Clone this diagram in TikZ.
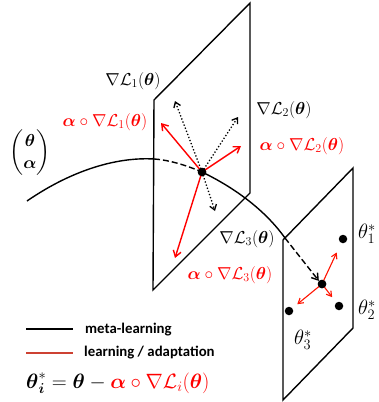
\documentclass[tikz,border=0pt]{standalone}
\usepackage{amsmath,amssymb}
\usepackage{fontspec}
\newfontfamily\legendfont{Carlito}
\usetikzlibrary{arrows.meta,calc}
\tikzset{
  plane/.style={line width=1.4pt, line join=miter},
  meta/.style={line width=1.4pt},
  dash6/.style={dash pattern=on 6pt off 3pt},
  redarr/.style={red, line width=1.4pt, -{Straight Barb[length=6pt,width=8pt]}},
  redarrs/.style={red!85!orange, line width=1.1pt, -{Straight Barb[length=5pt,width=6pt]}},
  dotarr/.style={black, line width=1.3pt, dotted, -{Straight Barb[length=5pt,width=7pt]}},
  lbl/.style={inner sep=0pt, font=\fontsize{17.5}{20}\selectfont},
  starlbl/.style={inner sep=0pt, font=\fontsize{21}{24}\selectfont},
  dot/.style={circle, fill=black, inner sep=0pt, minimum size=8.5pt},
  legtext/.style={inner sep=0pt, anchor=west, font=\legendfont\bfseries\fontsize{14.8}{17}\selectfont}
}
\begin{document}
\begin{tikzpicture}[x=1pt,y=-1pt]
\useasboundingbox (0,0) rectangle (379,402);
% planes
\draw[plane] (154,100) -- (250,3) -- (250,193) -- (153,290) -- cycle;
\draw[plane] (283,240) -- (353,168) -- (353,328) -- (283,400) -- cycle;
% meta-learning curve
\coordinate (start) at (27,201);
\coordinate (edge1) at (154,159);
\node[dot] (c1) at (202,172) {};
\coordinate (edge2) at (285,238);
\node[dot] (c2) at (322,284) {};
\draw[meta] (start) .. controls (75,168) and (120,157) .. (edge1);
\draw[meta, dash6] (edge1) .. controls (170,160) and (188,166) .. (c1.center);
\draw[meta] (c1.center) .. controls (235,188) and (265,210) .. (edge2);
\draw[meta, dash6, -{Straight Barb[length=6pt,width=8pt]}] (edge2) -- (c2.north west);
% arrows in plane 1
\coordinate (r1) at (161,123);
\coordinate (r2) at (241,146);
\coordinate (r3) at (175,258);
\coordinate (d1) at (175,101);
\coordinate (d2) at (238,117);
\coordinate (d3) at (215,211);
\draw[dotarr] (c1.center) -- (d1);
\draw[dotarr] (c1.center) -- (d2);
\draw[dotarr] (c1.center) -- (d3);
\draw[redarr] (c1.center) -- (r1);
\draw[redarr] (c1.center) -- (r2);
\draw[redarr] (c1.center) -- (r3);
\node[dot] (c1b) at (202,172) {};
% plane 2 targets
\node[dot] (t1) at (343,239) {};
\node[dot] (t2) at (339,306) {};
\node[dot] (t3) at (289,311) {};
\draw[redarrs] (c2.center) -- ($(t1)!0.3!(c2)$);
\draw[redarrs] (c2.center) -- ($(t2)!0.4!(c2)$);
\draw[redarrs] (c2.center) -- ($(t3)!0.25!(c2)$);
\node[dot] (c2b) at (322,284) {};
% labels
\node[lbl] (l1) at (133,81) {$\nabla\mathcal{L}_1(\boldsymbol{\theta})$};
\node[lbl, red] (a1) at (105,122) {$\boldsymbol{\alpha}\circ\nabla\mathcal{L}_1(\boldsymbol{\theta})$};
\node[lbl] (l2) at (284,110) {$\nabla\mathcal{L}_2(\boldsymbol{\theta})$};
\node[lbl, red] (a2) at (302,146) {$\boldsymbol{\alpha}\circ\nabla\mathcal{L}_2(\boldsymbol{\theta})$};
\node[lbl] (l3) at (247,239) {$\nabla\mathcal{L}_3(\boldsymbol{\theta})$};
\node[lbl, red] (a3) at (230,275) {$\boldsymbol{\alpha}\circ\nabla\mathcal{L}_3(\boldsymbol{\theta})$};
\node[inner sep=0pt, font=\fontsize{19}{22}\selectfont] (vec) at (30,153) {$\begin{pmatrix}\boldsymbol{\theta}\\ \boldsymbol{\alpha}\end{pmatrix}$};
\node[starlbl, anchor=west] (s1) at (358,234) {$\theta_1^*$};
\node[starlbl, anchor=west] (s2) at (358,310) {$\theta_2^*$};
\node[starlbl] (s3) at (303,340) {$\theta_3^*$};
% legend
\coordinate (k1a) at (26,329); \coordinate (k1b) at (73,329);
\coordinate (k2a) at (26,353); \coordinate (k2b) at (73,353);
\draw[line width=1.8pt] (k1a) -- (k1b);
\draw[line width=2.4pt, color={rgb,255:red,205;green,65;blue,50}] (k2a) -- (k2b);
\node[legtext] (m1) at (85,330) {meta-learning};
\node[legtext] (m2) at (84,353) {learning / adaptation};
\node[inner sep=0pt, anchor=west, font=\fontsize{21.5}{25}\selectfont] (f) at (26,383)
  {$\boldsymbol{\theta}_{\boldsymbol{i}}^{*}=\boldsymbol{\theta}-\color{red}\boldsymbol{\alpha}\circ\nabla\mathcal{L}_i(\boldsymbol{\theta})$};
\end{tikzpicture}
\end{document}
